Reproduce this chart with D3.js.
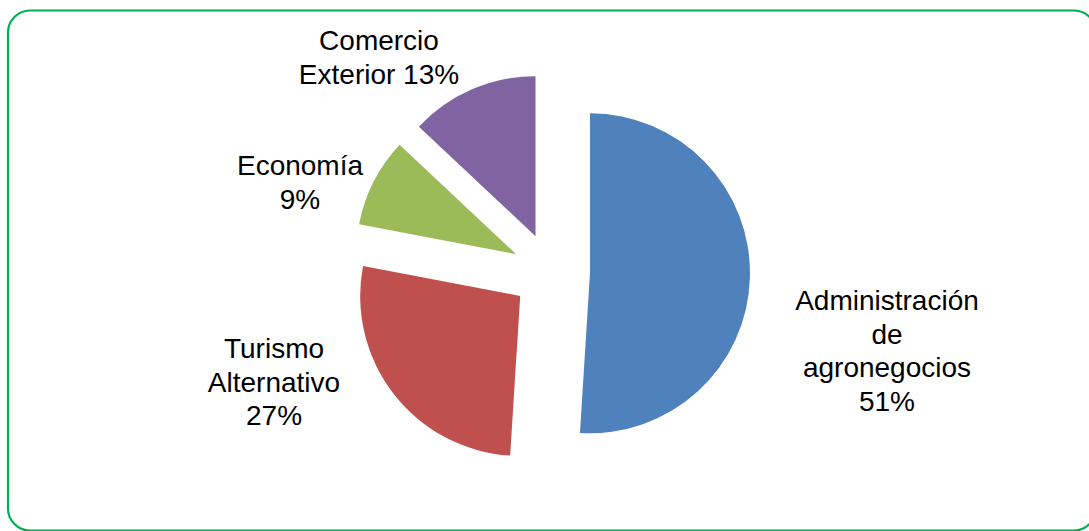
<!DOCTYPE html>
<html>
<head>
<meta charset="utf-8">
<script src="https://cdn.jsdelivr.net/npm/d3@7"></script>
<style>
  html, body { margin: 0; padding: 0; background: #fff; }
  svg { display: block; }
  .slice-label { font-family: "Liberation Sans", Arial, sans-serif; font-size: 28px; fill: #000; }
</style>
</head>
<body>
<div id="chart"></div>
<script>
// Data
var categories = ['Administración de agronegocios', 'Turismo Alternativo', 'Economía', 'Comercio Exterior'];
var values = [51, 27, 9, 13];
// How each label is broken into lines (text only)
var labelLines = [
  ['Administración', 'de', 'agronegocios', '51%'],
  ['Turismo', 'Alternativo', '27%'],
  ['Economía', '9%'],
  ['Comercio', 'Exterior 13%']
];
var colors = ['#4F81BD', '#C0504D', '#9BBB59', '#8064A2'];

// Layout
var width = 1089, height = 531;
var cx = 551, cy = 272;
var radius = 160;
var explode = 39;
// label block position (centre x, first baseline) relative to pie centre
var labelOffsets = [[336, 38], [-277, 86], [-251, -97], [-172, -222]];

var svg = d3.select('#chart').append('svg')
    .attr('width', width)
    .attr('height', height);

svg.append('rect')
    .attr('width', width)
    .attr('height', height)
    .attr('fill', '#fff');

// green rounded frame
svg.append('rect')
    .attr('x', 8)
    .attr('y', 10.5)
    .attr('width', 1088)
    .attr('height', 520)
    .attr('rx', 22)
    .attr('ry', 22)
    .attr('fill', 'none')
    .attr('stroke', '#00B050')
    .attr('stroke-width', 2.2);

var data = categories.map(function(c, i) {
  return { name: c, value: values[i], color: colors[i], lines: labelLines[i], off: labelOffsets[i] };
});

var pie = d3.pie()
    .sort(null)
    .value(function(d) { return d.value; });

var arc = d3.arc()
    .innerRadius(0)
    .outerRadius(radius);

var g = svg.append('g')
    .attr('transform', 'translate(' + cx + ',' + cy + ')');

g.selectAll('.slice')
    .data(pie(data))
    .enter()
  .append('path')
    .attr('class', 'slice')
    .attr('d', arc)
    .attr('fill', function(d) { return d.data.color; })
    .attr('transform', function(d) {
      var mid = (d.startAngle + d.endAngle) / 2;
      return 'translate(' + (explode * Math.sin(mid)) + ',' + (-explode * Math.cos(mid)) + ')';
    });

var labels = g.selectAll('.slice-label')
    .data(data)
    .enter()
  .append('text')
    .attr('class', 'slice-label')
    .attr('text-anchor', 'middle')
    .attr('x', function(d) { return d.off[0]; })
    .attr('y', function(d) { return d.off[1]; });

labels.each(function(d) {
  var t = d3.select(this);
  d.lines.forEach(function(line, i) {
    t.append('tspan')
      .attr('x', d.off[0])
      .attr('dy', i === 0 ? 0 : '1.2em')
      .text(line);
  });
});
</script>
</body>
</html>
